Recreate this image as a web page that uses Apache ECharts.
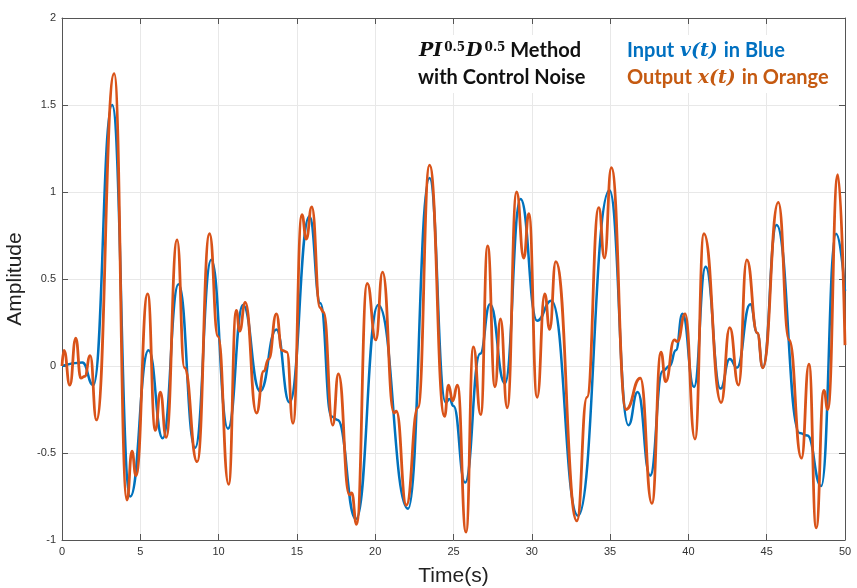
<!DOCTYPE html>
<html>
<head>
<meta charset="utf-8">
<script src="https://cdn.jsdelivr.net/npm/echarts@6/dist/echarts.min.js"></script>
<style>
  html, body { margin: 0; padding: 0; background: #fff; }
  #main { width: 857px; height: 588px; }
</style>
</head>
<body>
<div id="main"></div>
<script>
const chartDom = document.getElementById('main');
let myChart = echarts.init(chartDom);

// input v(t), blue - read at turning points
const tBlue = [0, 1.3, 2.0, 3.2, 4.36, 5.53, 6.43, 7.44, 8.5, 9.53, 10.6, 11.56, 12.65, 13.69, 14.53, 15.8, 16.5, 17.2, 17.6, 18.77,
  20.19, 22.1, 23.47, 24.5, 24.75, 25.0, 25.74, 26.7, 27.33, 28.28, 29.28, 30.34, 31.25, 32.95, 34.96, 36.17, 36.76, 37.56,
  38.35, 38.8, 39.2, 39.62, 40.36, 41.1, 42.05, 42.64, 43.1, 43.95, 44.4, 44.75, 45.63, 47.1, 47.6, 48.48, 49.43, 50];
const vBlue = [0, 0.02, -0.11, 1.50, -0.75, 0.09, -0.415, 0.47, -0.47, 0.61, -0.36, 0.35, -0.145, 0.21, -0.21, 0.86, 0.36, -0.29, -0.31, -0.88,
  0.35, -0.82, 1.08, -0.21, -0.19, -0.23, -0.67, 0.07, 0.355, -0.1, 0.96, 0.26, 0.375, -0.86, 1.01, -0.34, -0.15, -0.63,
  -0.03, 0.0, 0.09, 0.3, -0.12, 0.57, -0.13, 0.04, -0.01, 0.355, 0.19, -0.01, 0.81, -0.385, -0.4, -0.69, 0.76, 0.43];

// output x(t), orange
const tOrange = [0, 0.13, 0.5, 0.88, 1.2, 1.45, 1.8, 2.2, 3.33, 4.15, 4.47, 4.72, 5.47, 5.96, 6.28, 6.65, 7.35, 7.82, 8.63, 9.42,
  9.96, 10.64, 11.13, 11.34, 11.7, 12.42, 12.88, 13.2, 13.69, 14.05, 14.36, 14.75, 15.32, 15.6, 15.95, 16.48, 16.7, 17.29, 17.65,
  18.35, 18.5, 18.81, 19.49, 20.04, 20.47, 21.2, 21.35, 21.99, 22.73, 23.47, 24.43, 24.68, 24.95, 25.25, 25.8, 26.27, 26.74,
  27.18, 27.65, 28.0, 28.43, 29.03, 29.49, 29.81, 30.34, 30.83, 31.14, 31.53, 32.88, 33.52, 34.28, 34.64, 35.08, 36.02, 36.93,
  37.67, 38.25, 38.55, 39.1, 39.3, 39.79, 40.42, 40.99, 42.09, 42.64, 43.2, 43.73, 44.4, 44.75, 45.74, 46.43, 47.22, 47.7,
  48.16, 48.65, 48.9, 49.54, 50];
const vOrange = [0, 0.09, -0.11, 0.16, -0.07, -0.06, 0.06, -0.31, 1.68, -0.77, -0.49, -0.63, 0.415, -0.37, -0.15, -0.41, 0.725, -0.01, -0.55, 0.76,
  0.17, -0.68, 0.32, 0.2, 0.365, -0.27, -0.03, 0.04, 0.30, 0.09, 0.08, -0.33, 0.87, 0.73, 0.915, 0.335, 0.31, -0.34, -0.045,
  -0.74, -0.73, -0.91, 0.475, 0.15, 0.54, -0.27, -0.26, -0.80, -0.24, 1.155, -0.29, -0.11, -0.2, -0.11, -0.955, 0.11, -0.28,
  0.69, -0.12, 0.27, -0.24, 1.0, 0.62, 0.875, -0.18, 0.415, 0.21, 0.6, -0.89, -0.18, 0.91, 0.62, 1.14, -0.25, -0.07,
  -0.79, 0.08, -0.09, 0.15, 0.14, 0.3, -0.42, 0.76, -0.21, 0.22, -0.11, 0.61, 0.19, -0.01, 0.94, 0.15, -0.53, 0.01,
  -0.93, -0.14, -0.25, 1.1, 0.12];

const blueData = tBlue.map((t, i) => [t, vBlue[i]]);
const orangeData = tOrange.map((t, i) => [t, vOrange[i]]);

const axisFont = 'Liberation Sans Narrow, Liberation Sans, Arial';
const axisColor = '#555';
const gridColor = '#e8e8e8';
const mathFont = 'DejaVu Serif';
const textFont = 'Lato';

const boxAxis = {
    axisLine: { show: true, onZero: false, lineStyle: { color: axisColor, width: 1 } },
    axisTick: { show: true, inside: true, length: 6, lineStyle: { color: axisColor } },
    axisLabel: { show: false },
    splitLine: { show: false }
};

// rich text token styles for the two text blocks
const tok = (font, color, size) => ({
    fontFamily: font, fontWeight: 'bold', fontSize: size, fill: color, lineHeight: 27
});
const mathTok = (color) => ({
    fontFamily: mathFont, fontStyle: 'italic', fontWeight: 'bold', fontSize: 19, fill: color,
    lineHeight: 27, padding: [2, 1, 0, 1]
});
const supTok = (color) => ({
    fontFamily: mathFont, fontWeight: 'bold', fontSize: 12, fill: color,
    verticalAlign: 'top', lineHeight: 27, padding: [5, 0, 0, 1]
});

myChart.setOption({
    animation: false,
    grid: { left: 62, right: 12, top: 18, bottom: 48, outerBoundsMode: 'none' },
    xAxis: [
        {
            type: 'value', min: 0, max: 50, interval: 5,
            name: 'Time(s)', nameLocation: 'middle', nameGap: 26,
            nameTextStyle: { fontFamily: axisFont, fontSize: 21, color: '#222' },
            axisLine: { onZero: false, lineStyle: { color: axisColor } },
            axisTick: { inside: true, length: 6, lineStyle: { color: axisColor } },
            axisLabel: { fontFamily: axisFont, fontSize: 11, color: '#333', margin: 6 },
            splitLine: { show: true, lineStyle: { color: gridColor } }
        },
        Object.assign({ type: 'value', min: 0, max: 50, interval: 5, position: 'top' }, boxAxis)
    ],
    yAxis: [
        {
            type: 'value', min: -1, max: 2, interval: 0.5,
            name: 'Amplitude', nameLocation: 'middle', nameGap: 23,
            nameTextStyle: { fontFamily: axisFont, fontSize: 21, color: '#222' },
            axisLine: { show: true, onZero: false, lineStyle: { color: axisColor } },
            axisTick: { show: true, inside: true, length: 6, lineStyle: { color: axisColor } },
            axisLabel: { fontFamily: axisFont, fontSize: 11, color: '#333', margin: 6 },
            splitLine: { show: true, lineStyle: { color: gridColor } }
        },
        Object.assign({ type: 'value', min: -1, max: 2, interval: 0.5, position: 'right' }, boxAxis)
    ],
    series: [
        {
            name: 'Input v(t)', type: 'line', data: blueData,
            smooth: 0.5, smoothMonotone: 'x', showSymbol: false,
            lineStyle: { color: '#0072BD', width: 2.5 }
        },
        {
            name: 'Output x(t)', type: 'line', data: orangeData,
            smooth: 0.5, smoothMonotone: 'x', showSymbol: false,
            lineStyle: { color: '#D95319', width: 2.8 }
        }
    ],
    graphic: [
        {
            type: 'text', left: 414, top: 35, z: 100,
            style: {
                text: '{m|PI}{s|0.5}{m|D}{s|0.5}{b| Method}\n{b|with Control Noise}',
                backgroundColor: '#fff',
                padding: [2, 4],
                rich: {
                    m: mathTok('#111'),
                    s: supTok('#111'),
                    b: tok(textFont, '#111', 20)
                }
            }
        },
        {
            type: 'text', left: 623, top: 35, z: 100,
            style: {
                text: '{bb|Input }{bm|v(t)}{bb| in Blue}\n{ob|Output }{om|x(t)}{ob| in Orange}',
                backgroundColor: '#fff',
                padding: [2, 4],
                rich: {
                    bb: tok(textFont, '#0070C0', 20),
                    bm: mathTok('#0070C0'),
                    ob: tok(textFont, '#C55A11', 20),
                    om: mathTok('#C55A11')
                }
            }
        }
    ]
});

window.addEventListener('resize', () => {
    myChart.resize();
});
</script>
</body>
</html>
